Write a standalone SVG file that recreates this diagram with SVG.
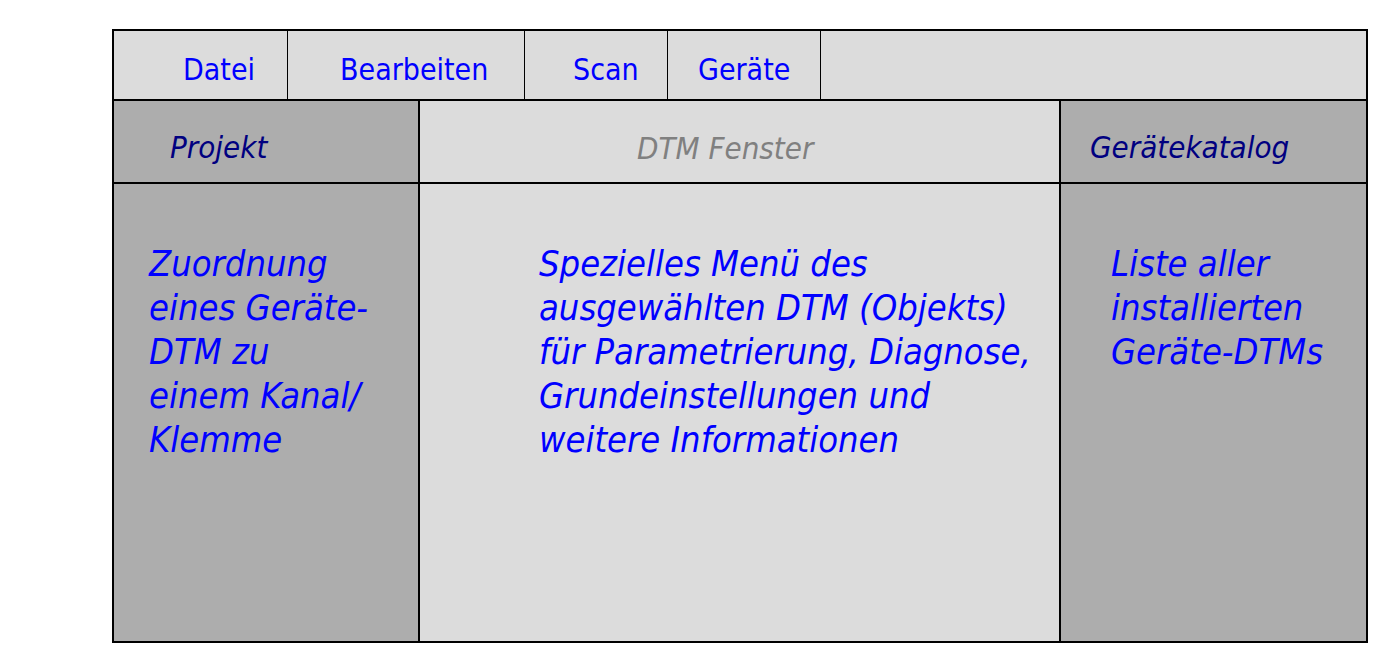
<svg xmlns="http://www.w3.org/2000/svg" width="1400" height="670" viewBox="0 0 1400 670">
<style>
text{font-family:"DejaVu Sans Condensed","DejaVu Sans",sans-serif;font-stretch:condensed}
.menu{font-size:30px;fill:#0000FF}
.hdr{font-size:31px;font-style:italic;fill:#000080}
.hdrg{font-size:31px;font-style:italic;fill:#808080}
.body{font-size:36px;font-style:italic;fill:#0000FF}
.dark{fill:#ADADAD}
.light{fill:#DCDCDC}
.thin{stroke:#000;stroke-width:1;fill:none}
.thick{stroke:#000;stroke-width:2;fill:none}
</style>
<rect x="0" y="0" width="1400" height="670" fill="#FFFFFF"/>
<g id="menubar">
<rect class="light" x="113" y="30" width="1254" height="70"/>
<text class="menu" x="183" y="80">Datei</text>
<text class="menu" x="340" y="80">Bearbeiten</text>
<text class="menu" x="573" y="80">Scan</text>
<text class="menu" x="698" y="80">Geräte</text>
</g>
<g id="projekt">
<rect class="dark" x="113" y="100" width="306" height="542"/>
<text class="hdr" x="170" y="158">Projekt</text>
<text class="body"><tspan x="149" y="276">Zuordnung</tspan><tspan x="149" y="320">eines Geräte-</tspan><tspan x="149" y="364">DTM zu</tspan><tspan x="149" y="408">einem Kanal/</tspan><tspan x="149" y="452">Klemme</tspan></text>
</g>
<g id="dtm-fenster">
<rect class="light" x="419" y="100" width="641" height="542"/>
<text class="hdrg" x="637" y="159">DTM Fenster</text>
<text class="body"><tspan x="539" y="276">Spezielles Menü des</tspan><tspan x="539" y="320">ausgewählten DTM (Objekts)</tspan><tspan x="539" y="364">für Parametrierung, Diagnose,</tspan><tspan x="539" y="408">Grundeinstellungen und</tspan><tspan x="539" y="452">weitere Informationen</tspan></text>
</g>
<g id="geraetekatalog">
<rect class="dark" x="1060" y="100" width="307" height="542"/>
<text class="hdr" x="1090" y="158">Gerätekatalog</text>
<text class="body"><tspan x="1111" y="276">Liste aller</tspan><tspan x="1111" y="320">installierten</tspan><tspan x="1111" y="364">Geräte-DTMs</tspan></text>
</g>
<g id="connectors">
<line class="thin" x1="287.5" y1="30" x2="287.5" y2="100"/>
<line class="thin" x1="524.5" y1="30" x2="524.5" y2="100"/>
<line class="thin" x1="667.5" y1="30" x2="667.5" y2="100"/>
<line class="thin" x1="820.5" y1="30" x2="820.5" y2="100"/>
<line class="thick" x1="113" y1="100" x2="1367" y2="100"/>
<line class="thick" x1="113" y1="183" x2="1367" y2="183"/>
<line class="thick" x1="419" y1="100" x2="419" y2="642"/>
<line class="thick" x1="1060" y1="100" x2="1060" y2="642"/>
<rect class="thick" x="113" y="30" width="1254" height="612"/>
</g>
</svg>
